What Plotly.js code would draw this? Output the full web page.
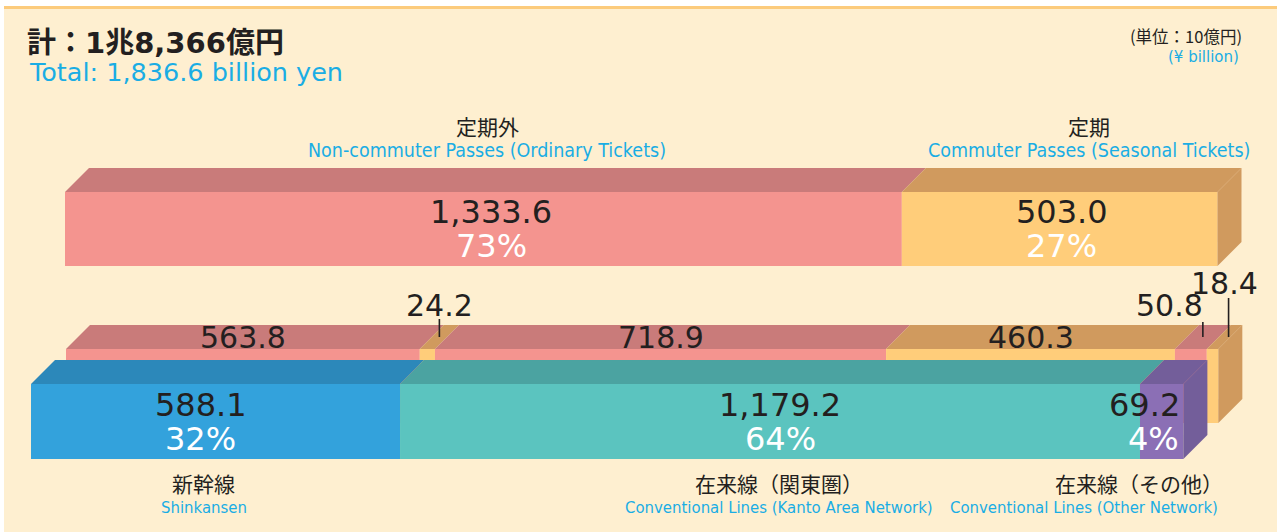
<!DOCTYPE html>
<html>
<head>
<meta charset="utf-8">
<script src="https://cdn.plot.ly/plotly-3.0.1.min.js"></script>
<style>
  html, body { margin: 0; padding: 0; background: #ffffff; }
  #chart { width: 1277px; height: 532px; }
</style>
</head>
<body>
<div id="chart"></div>
<script>
// ---------------- DATA ----------------
const totalValue = 1836.6;
const titleJa = '計：1兆8,366億円';
const titleEn = 'Total: 1,836.6 billion yen';
const unitJa = '(単位：10億円)';
const unitEn = '(¥ billion)';

const passTypes = ['定期外', '定期'];
const passTypesEn = ['Non-commuter Passes (Ordinary Tickets)', 'Commuter Passes (Seasonal Tickets)'];
const passValues = [1333.6, 503.0];
const passShares = [73, 27];

const lineTypes = ['新幹線', '在来線（関東圏）', '在来線（その他）'];
const lineTypesEn = ['Shinkansen', 'Conventional Lines (Kanto Area Network)', 'Conventional Lines (Other Network)'];
const lineValues = [588.1, 1179.2, 69.2];
const lineShares = [32, 64, 4];

const splitLabels = ['新幹線・定期外', '新幹線・定期', '関東圏・定期外', '関東圏・定期', 'その他・定期外', 'その他・定期'];
const splitValues = [563.8, 24.2, 718.9, 460.3, 50.8, 18.4];

// ---------------- STYLE / LAYOUT CONSTANTS ----------------
const W = 1277, H = 532;
const K = 0.6275;            // px per value unit
const U = 1 / K;             // value units per px
const X0PX = 31;             // where value 0 sits (px)
const DX = 24 * U, DY = 24;  // 3D depth

const C = {
  pinkF: '#F4948F', pinkT: '#C97B7A',
  yelF: '#FFCD7A', yelT: '#D09A5E',
  blueF: '#33A2DC', blueT: '#2C88BA',
  tealF: '#5BC4BF', tealT: '#4BA3A1',
  purF: '#8B6FB5', purT: '#735E9A',
  dark: '#231F20', cyan: '#1AADE4', cream: '#FEEFD0', orange: '#FCCB7C'
};

const rows = {
  top: { start: 34 * U, yc: 229, h: 74 },
  mid: { start: 35 * U, yc: 386, h: 74 },
  bot: { start: 0, yc: 421.5, h: 75 }
};

const passFront = [C.pinkF, C.yelF], passTop = [C.pinkT, C.yelT];
const lineFront = [C.blueF, C.tealF, C.purF], lineTop = [C.blueT, C.tealT, C.purT];
const splitFront = [C.pinkF, C.yelF, C.pinkF, C.yelF, C.pinkF, C.yelF];
const splitTop = [C.pinkT, C.yelT, C.pinkT, C.yelT, C.pinkT, C.yelT];

function starts(vals, s0) {
  const out = []; let acc = s0;
  vals.forEach(v => { out.push(acc); acc += v; });
  return out;
}
const fmt = v => v.toLocaleString('en-US', { minimumFractionDigits: 1, maximumFractionDigits: 1 });

const passStarts = starts(passValues, rows.top.start);
const lineStarts = starts(lineValues, rows.bot.start);
const splitStarts = starts(splitValues, rows.mid.start);

const traces = [];
function barTrace(row, vals, bases, colors, names) {
  return {
    type: 'bar', orientation: 'h',
    y: vals.map(() => row.yc), x: vals, base: bases, width: vals.map(() => row.h),
    marker: { color: colors, line: { width: 0 } },
    text: names, textposition: 'none', hoverinfo: 'skip', showlegend: false
  };
}
// front faces (middle row first so the front row covers it)
traces.push(barTrace(rows.mid, splitValues, splitStarts, splitFront, splitLabels));
traces.push(barTrace(rows.bot, lineValues, lineStarts, lineFront, lineTypes));
traces.push(barTrace(rows.top, passValues, passStarts, passFront, passTypes));

function poly(xs, ys, color) {
  traces.push({
    type: 'scatter', mode: 'lines', x: xs, y: ys, fill: 'toself',
    fillcolor: color, line: { width: 0, color: color }, hoverinfo: 'skip', showlegend: false
  });
}
function faces(row, vals, bases, tops, sideColor) {
  const yt = row.yc - row.h / 2, yb = row.yc + row.h / 2;
  vals.forEach((v, i) => {
    const a = bases[i], b = bases[i] + v;
    poly([a, b, b + DX, a + DX, a], [yt, yt, yt - DY, yt - DY, yt], tops[i]);
  });
  const e = bases[bases.length - 1] + vals[vals.length - 1];
  poly([e, e + DX, e + DX, e, e], [yt, yt - DY, yb - DY, yb, yt], sideColor);
}
faces(rows.mid, splitValues, splitStarts, splitTop, C.yelT);
faces(rows.bot, lineValues, lineStarts, lineTop, C.purT);
faces(rows.top, passValues, passStarts, passTop, C.yelT);

// leader lines for the thin middle segments
const leaderIdx = [1, 4, 5];
const leaderTopY = [319, 322, 298];
const leaderXShift = [0, 0, 4 * U];
const midTopCenterY = rows.mid.yc - rows.mid.h / 2 - DY / 2;
leaderIdx.forEach((idx, j) => {
  const x = splitStarts[idx] + splitValues[idx] / 2 + DX / 2 + leaderXShift[j];
  traces.push({
    type: 'scatter', mode: 'lines', x: [x, x], y: [midTopCenterY, leaderTopY[j]],
    line: { color: C.dark, width: 1.6 }, hoverinfo: 'skip', showlegend: false
  });
});

// ---------------- ANNOTATIONS ----------------
const NUM = 'DejaVu Sans, Noto Sans, sans-serif';
const JA = 'Noto Sans CJK JP, sans-serif';
const EN = 'DejaVu Sans Condensed, Liberation Sans, sans-serif';
const ann = [];
function A(x, y, text, size, color, family, extra) {
  ann.push(Object.assign({
    x: x, y: y, xref: 'x', yref: 'y', text: text, showarrow: false,
    font: { size: size, color: color, family: family }, xanchor: 'center', yanchor: 'middle'
  }, extra || {}));
}
const BIG = { height: 32 };

// top row labels
const passShift = [8, 2];
const passCatShift = [4, 29];
passValues.forEach((v, i) => {
  const cx = passStarts[i] + v / 2;
  A(cx, 212, fmt(v), 32, C.dark, NUM, Object.assign({ xshift: passShift[i] }, BIG));
  A(cx, 246, passShares[i] + '%', 32, '#ffffff', NUM, Object.assign({ xshift: passShift[i] }, BIG));
  A(cx, 126, passTypes[i], 21, C.dark, JA, { xshift: passCatShift[i] });
  A(cx, 150, passTypesEn[i], 19.5, C.cyan, EN, { xshift: passCatShift[i] });
});

// bottom row labels
const lineShift = [-15, 10];
const lineCatShift = [-12, 9];
lineValues.forEach((v, i) => {
  const cx = lineStarts[i] + v / 2;
  if (i < 2) {
    A(cx, 405, fmt(v), 32, C.dark, NUM, Object.assign({ xshift: lineShift[i] }, BIG));
    A(cx, 439, lineShares[i] + '%', 32, '#ffffff', NUM, Object.assign({ xshift: lineShift[i] }, BIG));
    A(cx, 483, lineTypes[i], 21, C.dark, JA, { xshift: lineCatShift[i] });
    A(cx, 507, lineTypesEn[i], 16.6, C.cyan, EN, { xshift: lineCatShift[i] });
  } else {
    const e = lineStarts[i] + v;
    A(e, 405, fmt(v), 32, C.dark, NUM, Object.assign({ xanchor: 'right', xshift: -1 }, BIG));
    A(e, 439, lineShares[i] + '%', 32, '#ffffff', NUM, Object.assign({ xanchor: 'right', xshift: -2 }, BIG));
    A(e, 483, lineTypes[i], 21, C.dark, JA, { xanchor: 'right', xshift: 42 });
    A(e, 507, lineTypesEn[i], 16.6, C.cyan, EN, { xanchor: 'right', xshift: 37 });
  }
});

// middle row labels
[0, 2, 3].forEach(i => {
  A(splitStarts[i] + splitValues[i] / 2, 337, fmt(splitValues[i]), 30, C.dark, NUM, {});
});
leaderIdx.forEach((idx, j) => {
  const x = splitStarts[idx] + splitValues[idx] / 2 + DX / 2 + leaderXShift[j];
  const ly = [305, 305, 283][j];
  const opts = [{}, { xanchor: 'right', xshift: 2 }, { xshift: -4 }][j];
  A(x, ly, fmt(splitValues[idx]), 30, C.dark, NUM, Object.assign({ height: 30 }, opts));
});

// title texts (paper coordinates)
ann.push({ xref: 'paper', yref: 'paper', x: 27 / W, y: 1 - 72 / H, text: titleEn, showarrow: false,
  xanchor: 'left', yanchor: 'middle', font: { size: 25.5, color: C.cyan, family: NUM } });
ann.push({ xref: 'paper', yref: 'paper', x: 1244 / W, y: 1 - 36 / H, text: unitJa, showarrow: false,
  xanchor: 'right', yanchor: 'middle', font: { size: 16.5, color: C.dark, family: JA } });
ann.push({ xref: 'paper', yref: 'paper', x: 1241 / W, y: 1 - 57 / H, text: unitEn, showarrow: false,
  xanchor: 'right', yanchor: 'middle', font: { size: 15, color: C.cyan, family: NUM } });

const layout = {
  width: W, height: H,
  margin: { l: 0, r: 0, t: 0, b: 0, pad: 0 },
  paper_bgcolor: '#ffffff', plot_bgcolor: 'rgba(0,0,0,0)',
  title: { text: titleJa, x: 27 / W, xanchor: 'left', xref: 'paper', y: 1 - 43 / H, yanchor: 'middle', yref: 'paper',
    font: { size: 29, color: C.dark, family: 'DejaVu Sans, Noto Sans CJK JP, sans-serif', weight: 'bold' } },
  barmode: 'overlay',
  showlegend: false,
  hovermode: false,
  xaxis: { range: [-X0PX * U, (W - X0PX) * U], visible: false, fixedrange: true, domain: [0, 1] },
  yaxis: { range: [H, 0], visible: false, fixedrange: true, domain: [0, 1] },
  shapes: [
    { type: 'rect', xref: 'paper', yref: 'paper', x0: 4 / W, x1: 1, y0: 0, y1: 1 - 6 / H,
      fillcolor: C.cream, line: { width: 0 }, layer: 'below' },
    { type: 'rect', xref: 'paper', yref: 'paper', x0: 4 / W, x1: 1, y0: 1 - 9 / H, y1: 1 - 6 / H,
      fillcolor: C.orange, line: { width: 0 }, layer: 'below' }
  ],
  annotations: ann
};

Plotly.newPlot('chart', traces, layout, { displayModeBar: false, staticPlot: true });
</script>
</body>
</html>
